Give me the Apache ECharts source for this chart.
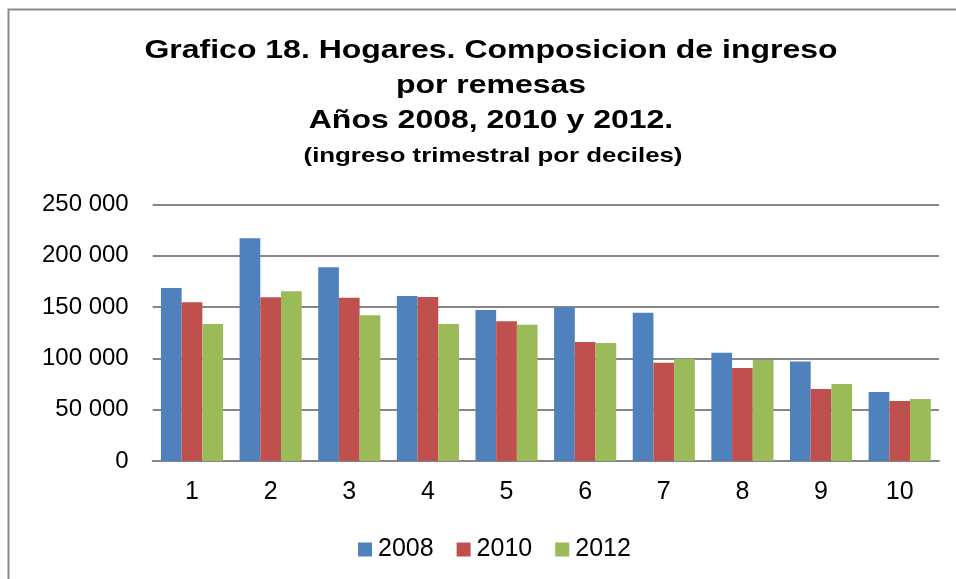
<!DOCTYPE html>
<html><head><meta charset="utf-8">
<script src="https://cdn.jsdelivr.net/npm/echarts@6/dist/echarts.min.js"></script>
<style>html,body{margin:0;padding:0;background:#fff;}#c{width:956px;height:579px;}</style>
</head><body><div id="c"></div>
<script>
const categories = ['1','2','3','4','5','6','7','8','9','10'];
const s2008 = [168500, 216900, 188600, 160700, 147100, 149700, 144500, 105500, 96800, 67200];
const s2010 = [154500, 159400, 159100, 159700, 136000, 115900, 95800, 90600, 70100, 58400];
const s2012 = [133400, 165300, 141900, 133400, 132800, 114900, 99700, 98400, 75000, 60400];
const yTicks = [0, 50000, 100000, 150000, 200000, 250000];
const titleLines = ['Grafico 18. Hogares. Composicion de ingreso', 'por remesas', 'Años 2008, 2010 y 2012.'];
const subtitle = '(ingreso trimestral por deciles)';

const chart = echarts.init(document.getElementById('c'));
const fnt = '"Liberation Sans", Arial, sans-serif';
function fmt(v){ return String(v).replace(/\B(?=(\d{3})+(?!\d))/g, ' '); }
const titleY = [51, 86, 121];
const graphics = [{type:'rect', shape:{x:8.5,y:9.5,width:1000,height:1000}, style:{fill:'none', stroke:'#8a8a8a', lineWidth:2}}];
titleLines.forEach((t,i)=>graphics.push({type:'text', x:491, y:titleY[i], scaleX:1.23,
  style:{text:t, align:'center', verticalAlign:'middle', font:'bold 26px '+fnt, fill:'#000'}}));
graphics.push({type:'text', x:493, y:156, scaleX:1.23,
  style:{text:subtitle, align:'center', verticalAlign:'middle', font:'bold 21px '+fnt, fill:'#000'}});
chart.setOption({
  animation: false,
  graphic: graphics,
  legend: {top:532, left:353, itemWidth:14, itemHeight:14, itemGap:23, icon:'rect',
    textStyle:{fontFamily:fnt, fontSize:25, color:'#000', padding:[0,0,0,1]},
    data:['2008','2010','2012']},
  grid: {left:152.7, right:17, top:204.3, bottom:118, containLabel:false},
  xAxis: {type:'category', data:categories,
    axisLine:{lineStyle:{color:'#868686', width:2}}, axisTick:{show:false},
    axisLabel:{fontFamily:fnt, fontSize:25, color:'#000', margin:19}},
  yAxis: {type:'value', min:0, max:250000, interval:50000,
    axisLine:{show:false}, axisTick:{show:false},
    splitLine:{lineStyle:{color:'#868686', width:2}},
    axisLabel:{fontFamily:fnt, fontSize:24, color:'#000', margin:24, formatter:v=>fmt(v)}},
  series: [
    {name:'2008', type:'bar', data:s2008, barGap:'0%', barCategoryGap:'21%', itemStyle:{color:'#4F81BD'}},
    {name:'2010', type:'bar', data:s2010, itemStyle:{color:'#C0504D'}},
    {name:'2012', type:'bar', data:s2012, itemStyle:{color:'#9BBB59'}}
  ]
});
</script></body></html>
